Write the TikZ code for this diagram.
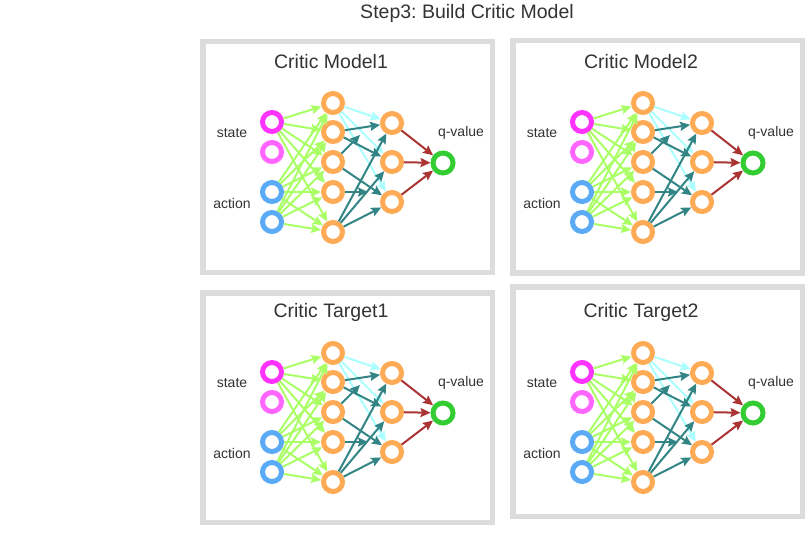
\documentclass[tikz,border=0pt]{standalone}
\usepackage{fontspec}
\setmainfont{Liberation Sans}
\usepackage{tikz}
\usetikzlibrary{arrows.meta}
\frenchspacing
\definecolor{boxgray}{HTML}{DCDCDC}
\definecolor{statecol}{HTML}{FF33FF}
\definecolor{statecolb}{HTML}{FF66FF}
\definecolor{actioncol}{HTML}{5AAAF5}
\definecolor{hiddencol}{HTML}{FFAA55}
\definecolor{outcol}{HTML}{33CC33}
\definecolor{edgegreen}{HTML}{AAFF66}
\definecolor{edgecyan}{HTML}{AAFFFF}
\definecolor{edgeteal}{HTML}{338585}
\definecolor{edgered}{HTML}{AA3333}
\definecolor{textgray}{HTML}{333333}
\tikzset{
  neuron/.style={circle, draw=#1, fill=white, line width=5pt, minimum size=19pt, inner sep=0pt},
  link/.style={draw=#1, line width=2pt, -{Stealth[length=10pt,width=9pt,inset=1.5pt]}},
  panelbox/.style={draw=boxgray, line width=5.5pt},
  netlabel/.style={text=textgray, font=\fontsize{14}{16}\selectfont, inner sep=0pt}
}

\begin{document}
\begin{tikzpicture}[x=1pt,y=-1pt]
                \useasboundingbox (0,0) rectangle (806,535);

                % Heading
                \node[text=textgray, font=\fontsize{19.5}{22}\selectfont] (heading) at (467,13) {Step3: Build Critic Model};

                % Four critic networks (shift x / shift y / box top / box bottom / title)
                \foreach \dx/\dy/\btop/\bbot/\ptitle in {0/0/41.75/272.25/Critic Model1, 310/0/40.75/272.75/Critic Model2, 0/250/42.75/272.25/Critic Target1, 310/250/36.75/266.25/Critic Target2} {
                \begin{scope}[shift={(\dx,\dy)}]
                    \draw[panelbox] (202.75,\btop) rectangle (492.25,\bbot); % grey frame
                    \node[text=textgray, font=\fontsize{19.5}{22}\selectfont] (ptitle) at (331,62) {\ptitle};

                    % Input layer
                    \node[neuron=statecol] (s1) at (272,122) {};
                    \node[neuron=statecolb] (s2) at (272,152) {};
                    \node[neuron=actioncol] (a1) at (272,192) {};
                    \node[neuron=actioncol] (a2) at (272,222) {};
                    \node[netlabel] (lstate) at (232,133) {state};
                    \node[netlabel] (laction) at (232,203) {action};

                    % Hidden layers
                    \foreach \i/\y in {1/103, 2/132, 3/162, 4/192, 5/232}
                        \node[neuron=hiddencol] (h\i) at (333,\y) {};
                    \foreach \i/\y in {1/123, 2/162, 3/202}
                        \node[neuron=hiddencol] (k\i) at (392,\y) {};

                    % Output
                    \node[neuron=outcol, minimum size=20pt] (q) at (443,163) {};
                    \node[netlabel] (lq) at (461,133) {q-value};

                    % Free ends of the two short arrows
                    \coordinate (m1) at (360,135);
                    \coordinate (m2) at (368,192);

                    % Input -> first hidden layer
                    \foreach \u in {s1, a1, a2}
                        \foreach \j in {1,...,5}
                            \draw[link=edgegreen] (\u) -- (h\j);

                    % First -> second hidden layer
                    \foreach \j in {1,2,3}
                        \draw[link=edgecyan] (h1) -- (k\j);
                    \foreach \u/\v in {h2/k1, h2/k2, h3/k3, h5/k1, h5/k2, h5/k3, h3/m1, h4/m2}
                        \draw[link=edgeteal] (\u) -- (\v);

                    % Second hidden layer -> q-value
                    \foreach \j in {1,2,3}
                        \draw[link=edgered] (k\j) -- (q);
                \end{scope}
                }
            \end{tikzpicture}
\end{document}
